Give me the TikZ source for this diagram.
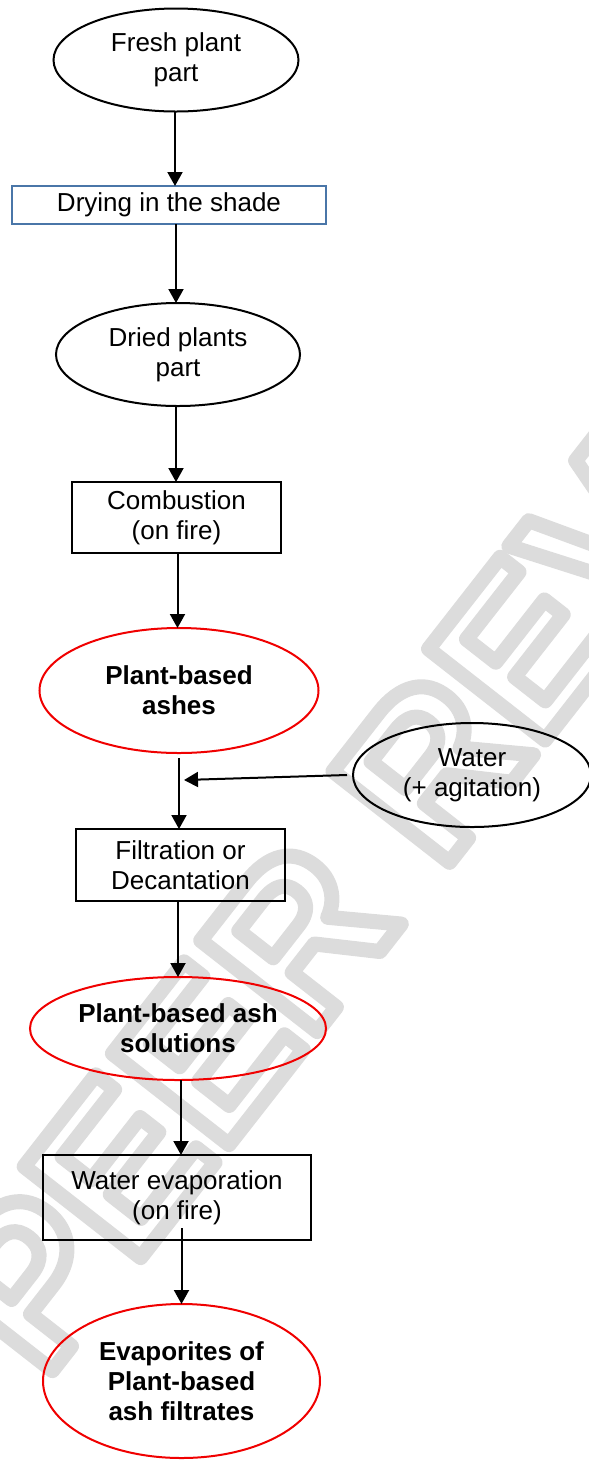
\documentclass[tikz,border=0pt]{standalone}
\usepackage{fontspec}
\setmainfont{Liberation Sans}
\usetikzlibrary{shapes.geometric,arrows.meta}
\definecolor{wmgray}{HTML}{DCDCDC}
\definecolor{boxblue}{HTML}{4A76A8}
\definecolor{ashred}{HTML}{F00000}
\tikzset{
  lbl/.style={font=\fontsize{26}{30}\selectfont, align=center, inner sep=0pt, outer sep=0pt},
  oval/.style={lbl, ellipse, draw=black, line width=2pt},
  redoval/.style={lbl, ellipse, draw=ashred, line width=2pt, font=\fontsize{26}{30}\selectfont\bfseries},
  procbox/.style={lbl, rectangle, draw=black, line width=2.4pt},
  arr/.style={line width=2pt, -{Triangle[width=15pt,length=14pt]}},
}
\begin{document}
\begin{tikzpicture}[x=1pt,y=-1pt]
\useasboundingbox (0,0) rectangle (589,1460);
% watermark
\begin{scope}
\clip (0,0) rectangle (589,1460);
\node[rotate=52, text=wmgray, inner sep=0pt, font=\fontsize{215}{215}\selectfont\bfseries] (wm) at (445,748)
  {\special{pdf:literal direct 1 Tr 15 w 1 j}PEER REVIEW\special{pdf:literal direct 0 Tr}};
\end{scope}
% nodes
\node[oval, minimum width=245pt, minimum height=103pt] (fresh) at (176,60) {Fresh plant\\part};
\node[lbl, rectangle, draw=boxblue, line width=2pt, minimum width=314pt, minimum height=38pt] (dry) at (169,205) {Drying in the shade};
\node[oval, minimum width=244pt, minimum height=103pt] (dried) at (178,354.5) {Dried plants\\part};
\node[procbox, minimum width=209pt, minimum height=71pt] (comb) at (176.5,517.5) {Combustion\\(on fire)};
\node[redoval, minimum width=279pt, minimum height=125pt] (ashes) at (179,690.5) {Plant-based\\ashes};
\node[oval, minimum width=238pt, minimum height=104pt] (water) at (472,775) {Water\\(+ agitation)};
\node[procbox, minimum width=209pt, minimum height=72pt] (filt) at (180.5,865) {Filtration or\\Decantation};
\node[redoval, minimum width=296pt, minimum height=103pt] (sol) at (178,1028.5) {Plant-based ash\\solutions};
\node[procbox, minimum width=268pt, minimum height=85pt] (evap) at (177,1197.5) {Water evaporation\\(on fire)};
\node[redoval, minimum width=277pt, minimum height=154pt] (final) at (181.5,1381) {Evaporites of\\Plant-based\\ash filtrates};
% connectors
\coordinate (wj) at (184,780);
\draw[arr] ([xshift=-1pt]fresh.south) -- ([xshift=-1pt]fresh.south |- dry.north);
\draw[arr] ([xshift=-2pt]dried.north |- dry.south) -- ([xshift=-2pt]dried.north);
\draw[arr] ([xshift=-2pt]dried.south) -- ([xshift=-2pt]dried.south |- comb.north);
\draw[arr] ([xshift=1pt]comb.south) -- ([xshift=1pt]comb.south |- ashes.north);
\draw[arr] ([yshift=-5pt]ashes.south) -- (ashes.south |- filt.north);
\draw[arr] ([xshift=-6pt]water.west) -- (wj);
\draw[arr] (sol.north |- filt.south) -- (sol.north);
\draw[arr] ([xshift=3pt]sol.south) -- ([xshift=3pt]sol.south |- evap.north);
\draw[arr] ([yshift=12pt]final.north |- evap.south) -- (final.north);
\end{tikzpicture}
\end{document}
